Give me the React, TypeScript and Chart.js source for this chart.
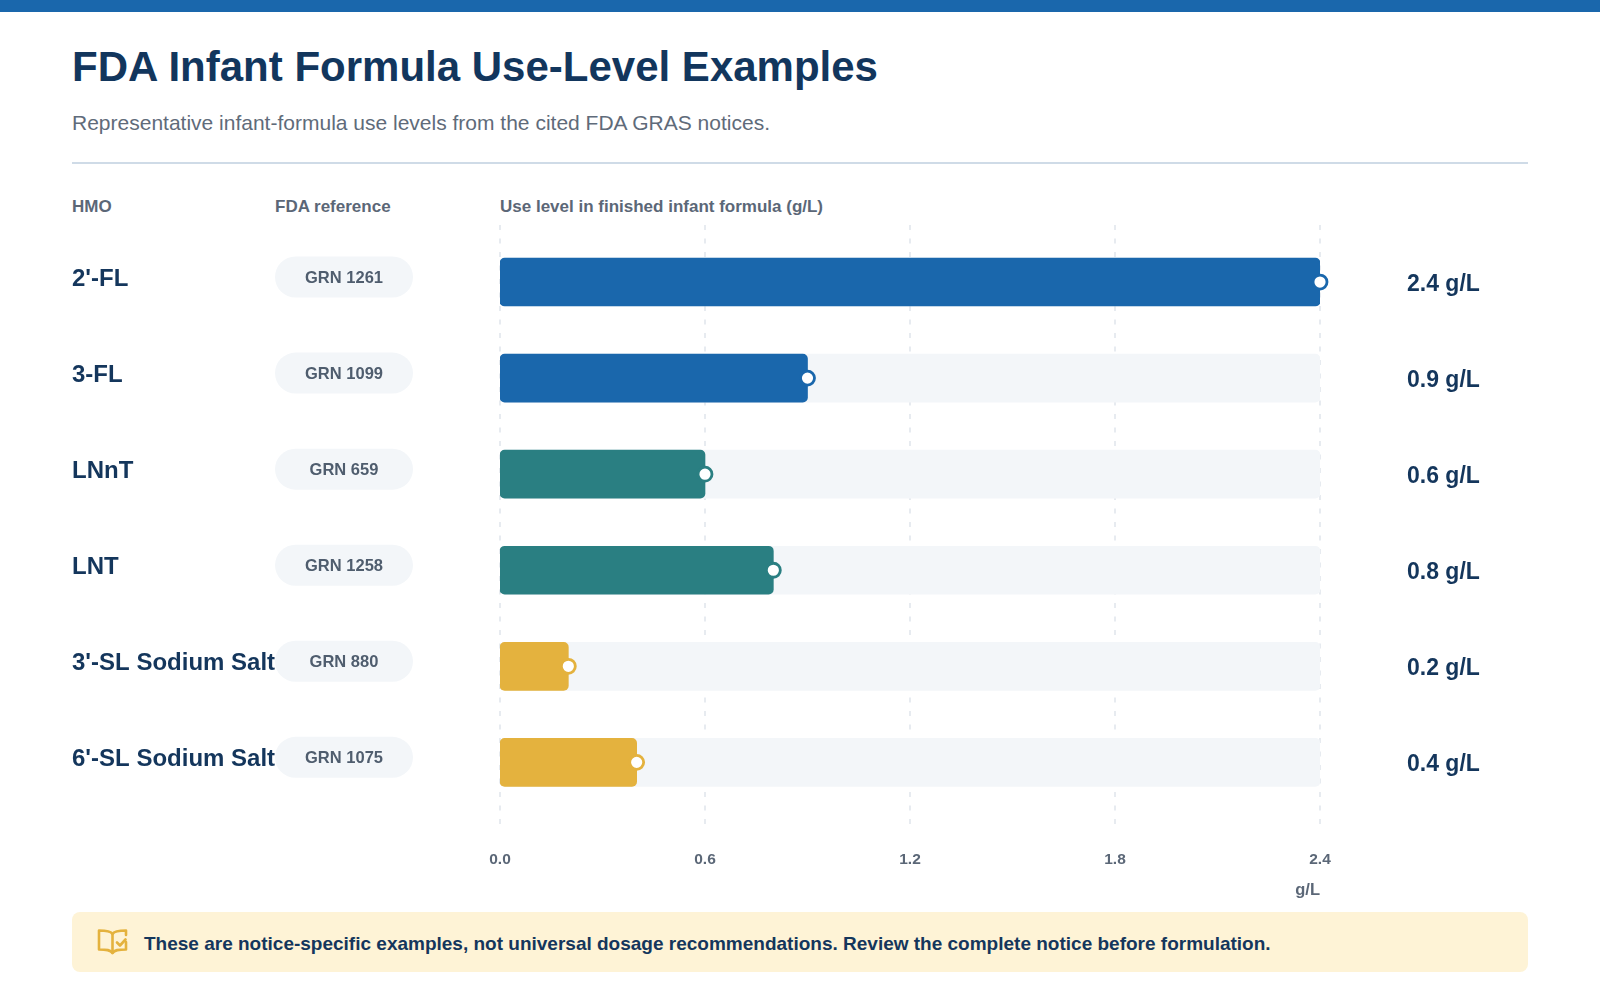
import { useEffect, useRef } from 'react';
import { Chart, registerables } from 'chart.js';

Chart.register(...registerables);

// HMO rows, FDA notice references and use levels (g/L)
const hmoNames = ["2'-FL", '3-FL', 'LNnT', 'LNT', "3'-SL Sodium Salt", "6'-SL Sodium Salt"];
const grnNotices = ['GRN 1261', 'GRN 1099', 'GRN 659', 'GRN 1258', 'GRN 880', 'GRN 1075'];
const useLevels = [2.4, 0.9, 0.6, 0.8, 0.2, 0.4];
const axisTicks = [0, 0.6, 1.2, 1.8, 2.4];
const axisMax = 2.4;
const unit = 'g/L';

const barColors = ['#1a67ac', '#1a67ac', '#2a7f82', '#2a7f82', '#e4b23e', '#e4b23e'];
const FONT = '"Liberation Sans", Arial, Helvetica, sans-serif';
const NAVY = '#14365c';
const GRAY = '#5b6777';
const TRACK = '#f3f6f9';

const rowDecor = {
  id: 'rowDecor',
  beforeDatasetsDraw(chart: any) {
    const { ctx, chartArea, scales } = chart;
    const x = scales.x;
    ctx.save();
    ctx.strokeStyle = '#dfe5ec';
    ctx.lineWidth = 1.5;
    ctx.setLineDash([5, 8.5]);
    axisTicks.forEach(v => {
      const px = Math.round(x.getPixelForValue(v));
      ctx.beginPath();
      ctx.moveTo(px, chartArea.top - 9);
      ctx.lineTo(px, chartArea.bottom + 22);
      ctx.stroke();
    });
    ctx.restore();
  },
  afterDatasetsDraw(chart: any) {
    const { ctx, chartArea, scales } = chart;
    const { x, y } = scales;
    ctx.save();

    useLevels.forEach((v, i) => {
      const cy = y.getPixelForValue(i);

      // end marker
      ctx.beginPath();
      ctx.arc(x.getPixelForValue(v), cy, 7, 0, Math.PI * 2);
      ctx.fillStyle = '#ffffff';
      ctx.fill();
      ctx.lineWidth = 2.8;
      ctx.strokeStyle = barColors[i];
      ctx.stroke();

      // HMO name
      ctx.fillStyle = NAVY;
      ctx.font = `bold 24px ${FONT}`;
      ctx.textAlign = 'left';
      ctx.textBaseline = 'middle';
      ctx.fillText(hmoNames[i], 72, cy - 3);

      // FDA reference pill
      ctx.beginPath();
      ctx.roundRect(275, cy - 5 - 20.5, 138, 41, 20.5);
      ctx.fillStyle = TRACK;
      ctx.fill();
      ctx.fillStyle = '#4f5d6e';
      ctx.font = `bold 16.5px ${FONT}`;
      ctx.textAlign = 'center';
      ctx.fillText(grnNotices[i], 344, cy - 4);

      // value label
      ctx.fillStyle = NAVY;
      ctx.font = `bold 23px ${FONT}`;
      ctx.textAlign = 'left';
      ctx.fillText(`${v.toFixed(1)} ${unit}`, chartArea.right + 87, cy + 2.5);
    });

    // axis unit
    ctx.fillStyle = GRAY;
    ctx.font = `bold 16.5px ${FONT}`;
    ctx.textAlign = 'right';
    ctx.textBaseline = 'middle';
    ctx.fillText(unit, chartArea.right, chartArea.bottom + 80);
    ctx.restore();
  },
};

const UseLevelChart = () => {
  const chartRef = useRef<HTMLCanvasElement | null>(null);
  const chartInstance = useRef<Chart | null>(null);

  useEffect(() => {
    if (!chartRef.current) return;
    const ctx = chartRef.current.getContext('2d');
    if (!ctx) return;

    if (chartInstance.current) chartInstance.current.destroy();

    Chart.defaults.font.family = FONT;

    chartInstance.current = new Chart(ctx, {
      type: 'bar',
      data: {
        labels: hmoNames,
        datasets: [
          {
            label: 'Use level',
            data: useLevels,
            backgroundColor: barColors,
            borderRadius: 5,
            borderSkipped: false,
            barThickness: 48,
            grouped: false,
            order: 1,
          },
          {
            label: 'Scale',
            data: hmoNames.map(() => axisMax),
            backgroundColor: TRACK,
            borderRadius: 5,
            borderSkipped: false,
            barThickness: 48,
            grouped: false,
            order: 2,
          },
        ],
      },
      options: {
        indexAxis: 'y',
        animation: false,
        responsive: true,
        maintainAspectRatio: false,
        layout: { padding: { top: 14, left: 500, right: 280, bottom: 1 } },
        scales: {
          x: {
            type: 'linear',
            min: 0,
            max: axisMax,
            grid: { display: false, drawTicks: false },
            border: { display: false },
            afterBuildTicks: (scale: any) => {
              scale.ticks = axisTicks.map(v => ({ value: v }));
            },
            ticks: {
              padding: 40,
              color: GRAY,
              font: { size: 15.5, weight: 'bold' },
              callback: (v: any) => Number(v).toFixed(1),
            },
          },
          y: { display: false },
        },
        plugins: {
          legend: { display: false },
          tooltip: { enabled: false },
        },
      },
      plugins: [rowDecor],
    });

    return () => {
      if (chartInstance.current) {
        chartInstance.current.destroy();
        chartInstance.current = null;
      }
    };
  }, []);

  return (
    <div style={{ position: 'absolute', left: 0, top: 220, width: 1600, height: 690 }}>
      <canvas ref={chartRef}></canvas>
    </div>
  );
};

const BookIcon = () => (
  <svg
    width="31"
    height="28"
    viewBox="0 0 31 28"
    fill="none"
    stroke="#e4b23e"
    strokeWidth="2.6"
    strokeLinejoin="round"
    strokeLinecap="round"
  >
    <path d="M15.5 6 C14 3.5 11 2.5 2 2.5 V21.5 C10 21.5 13.5 22 15.5 25 C17.5 22 21 21.5 29 21.5 V14" />
    <path d="M29 7 V2.5 C21 2.5 17 3.5 15.5 6 V25" />
    <path d="M20 14.5 l3 3 l5.5 -6" />
  </svg>
);

const App = () => (
  <div
    style={{
      position: 'absolute',
      left: 0,
      top: 0,
      width: 1600,
      height: 1000,
      overflow: 'hidden',
      background: '#ffffff',
      fontFamily: FONT,
    }}
  >
    <div style={{ position: 'absolute', left: 0, top: 0, width: 1600, height: 12, background: '#1a67ac' }} />
    <div
      style={{
        position: 'absolute',
        left: 72,
        top: 46,
        fontSize: 42,
        lineHeight: '42px',
        fontWeight: 700,
        color: '#12365d',
        whiteSpace: 'nowrap',
      }}
    >
      FDA Infant Formula Use-Level Examples
    </div>
    <div
      style={{
        position: 'absolute',
        left: 72,
        top: 112,
        fontSize: 21,
        lineHeight: '21px',
        color: '#5f6b7a',
        whiteSpace: 'nowrap',
      }}
    >
      Representative infant-formula use levels from the cited FDA GRAS notices.
    </div>
    <div style={{ position: 'absolute', left: 72, top: 162, width: 1456, height: 2, background: '#cfdbe7' }} />

    {[
      { text: 'HMO', left: 72 },
      { text: 'FDA reference', left: 275 },
      { text: 'Use level in finished infant formula (g/L)', left: 500 },
    ].map(h => (
      <div
        key={h.text}
        style={{
          position: 'absolute',
          left: h.left,
          top: 198,
          fontSize: 17,
          lineHeight: '17px',
          fontWeight: 700,
          color: GRAY,
          whiteSpace: 'nowrap',
        }}
      >
        {h.text}
      </div>
    ))}

    <UseLevelChart />

    <div
      style={{
        position: 'absolute',
        left: 72,
        top: 912,
        width: 1456,
        height: 60,
        borderRadius: 8,
        background: '#fef3d6',
      }}
    >
      <div style={{ position: 'absolute', left: 25, top: 16 }}>
        <BookIcon />
      </div>
      <div
        style={{
          position: 'absolute',
          left: 72,
          top: 0,
          height: 60,
          display: 'flex',
          alignItems: 'center',
          paddingTop: 3,
          boxSizing: 'border-box',
          fontSize: 19,
          fontWeight: 700,
          color: NAVY,
          whiteSpace: 'nowrap',
        }}
      >
        These are notice-specific examples, not universal dosage recommendations. Review the complete notice before
        formulation.
      </div>
    </div>
  </div>
);

export default App;
